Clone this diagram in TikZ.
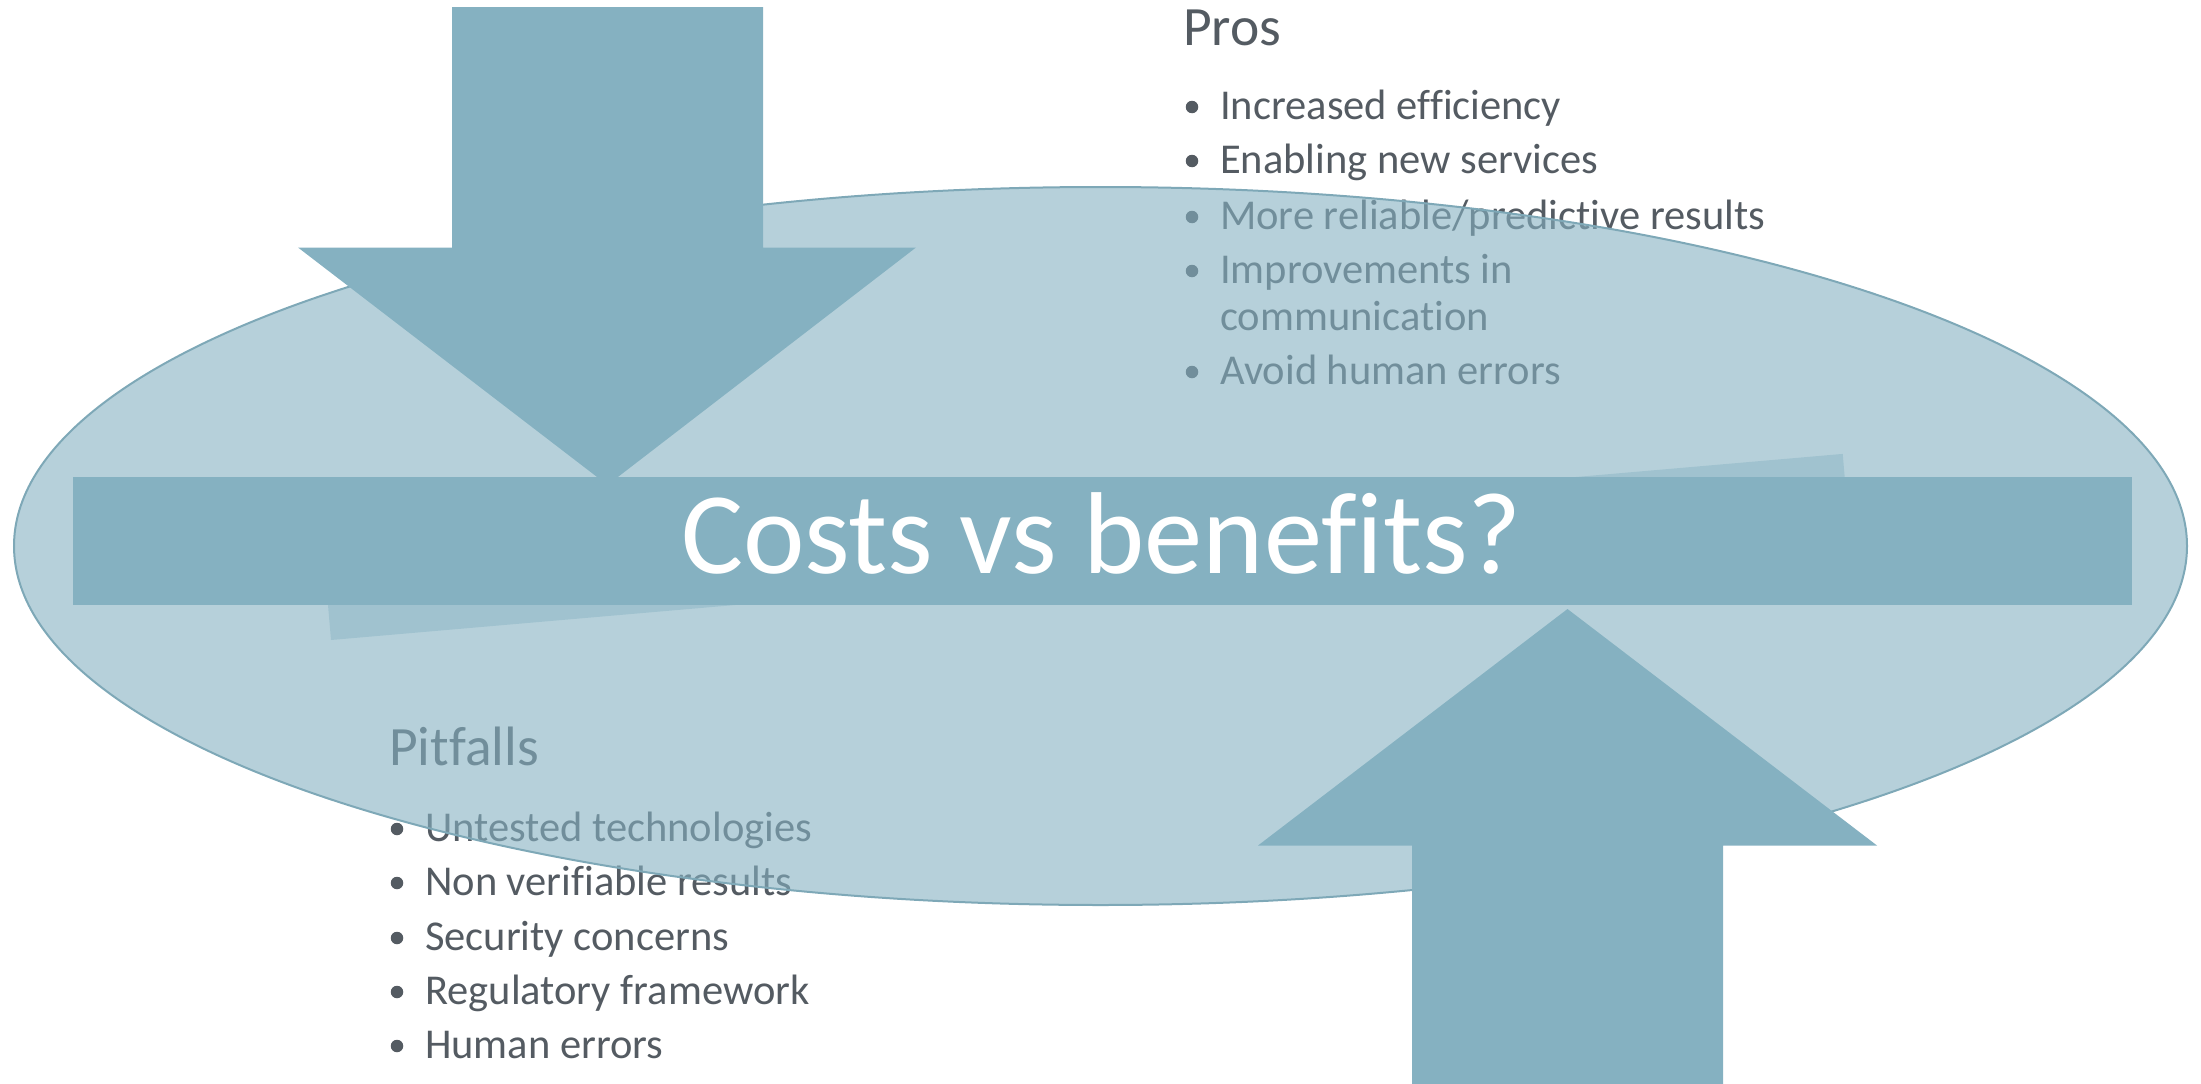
\documentclass[tikz,border=0pt]{standalone}
\usepackage{fontspec}
\setmainfont[Ligatures=NoCommon]{Carlito}
\definecolor{tealc}{HTML}{85B1C1}
\definecolor{txt}{HTML}{545B62}
\tikzset{
  item/.style={anchor=base west, inner sep=0pt, text=txt, font=\fontsize{42.5}{50}\selectfont},
  head/.style={anchor=base west, inner sep=0pt, text=txt, font=\fontsize{55.5}{64}\selectfont},
  dot/.style={circle, fill=txt, inner sep=0pt, minimum size=12.5pt},
  solidshape/.style={fill=tealc, draw=none},
}
\newcommand{\bulletitem}[4]{%
  \node[dot] (#1d) at (#2-28,#3-12) {};
  \node[item] (#1) at (#2,#3) {#4};}
\begin{document}
\begin{tikzpicture}[x=1pt,y=-1pt]
\useasboundingbox (0,0) rectangle (2201,1084);
% Pros
\node[head] (pros) at (1183,45) {Pros};
\bulletitem{p1}{1220}{119}{Increased efficiency}
\bulletitem{p2}{1220}{173}{Enabling new services}
\bulletitem{p3}{1220}{229}{More reliable/predictive results}
\bulletitem{p4}{1220}{283}{Improvements in}
\node[item] (p4b) at (1220,330) {communication};
\bulletitem{p5}{1220}{384}{Avoid human errors}
% Pitfalls
\node[head] (pit) at (389,765) {Pitfalls};
\bulletitem{q1}{425}{841}{Untested technologies}
\bulletitem{q2}{425}{895}{Non verifiable results}
\bulletitem{q3}{425}{950}{Security concerns}
\bulletitem{q4}{425}{1004}{Regulatory framework}
\bulletitem{q5}{425}{1058}{Human errors}
% ellipse
\fill[tealc, fill opacity=0.6] (1100.5,546) ellipse [x radius=1086.5, y radius=359];
\draw[tealc!95!black, line width=2pt] (1100.5,546) ellipse [x radius=1086.5, y radius=359];
% tilted shadow rectangle
\fill[tealc, fill opacity=0.45] (331,640) -- (1847.4,508.7) -- (1842.7,453.9) -- (326.3,585.2) -- cycle;
% down arrow
\fill[solidshape] (452,7) -- (763,7) -- (763,247.5) -- (916,247.5) -- (607.5,485) -- (298,247.5) -- (452,247.5) -- cycle;
% up arrow
\fill[solidshape] (1412,1084) -- (1723,1084) -- (1723,845.5) -- (1877,845.5) -- (1567.5,609) -- (1258,845.5) -- (1412,845.5) -- cycle;
% bar
\node[solidshape, anchor=north west, minimum width=2059pt, minimum height=128pt, inner sep=0pt] (bar) at (73,477) {};
\node[anchor=base, inner sep=0pt, text=white, font=\fontsize{116.5}{140}\selectfont] (title) at (1101.5,573) {Costs vs benefits?};
\end{tikzpicture}
\end{document}
